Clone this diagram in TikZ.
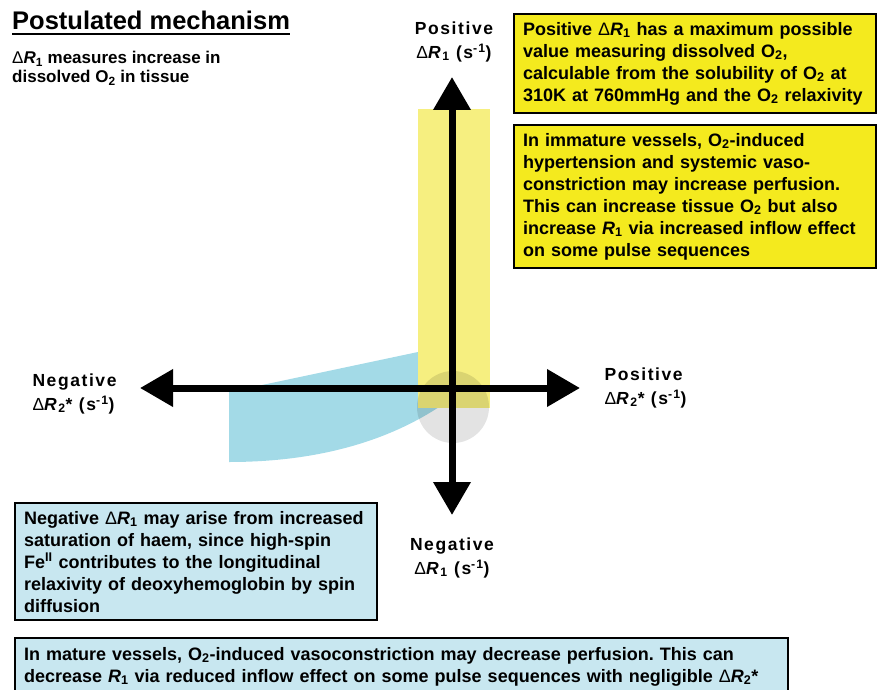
\documentclass[tikz,border=0pt]{standalone}
\usepackage{fontspec}
\setmainfont{Liberation Sans}
\newfontfamily\spacedfont[LetterSpace=9]{Liberation Sans}
\usetikzlibrary{arrows.meta}

\definecolor{boxyellow}{HTML}{F4EA1E}
\definecolor{paleyellow}{HTML}{F6EF80}
\definecolor{boxblue}{HTML}{C8E7F0}
\definecolor{wedgeblue}{HTML}{A3DAE7}
\definecolor{discgray}{HTML}{E3E3E3}

\newcommand{\dRone}{{\mdseries Δ}\textit{R}\textsubscript{1}}
\newcommand{\dRtwo}{{\mdseries Δ}\textit{R}\textsubscript{2}*}
\newcommand{\Otwo}{O\textsubscript{2}}
\newcommand{\perS}{(s\textsuperscript{-1})}
\frenchspacing

\begin{document}
\begin{tikzpicture}[
			x=1pt, y=-1pt,
			every node/.style={font=\bfseries},
			notebox/.style={draw=black, line width=2.2pt, anchor=north west, align=left,
				inner xsep=9pt, inner ysep=8pt, text width=#1,
				font=\fontsize{18}{22}\selectfont\bfseries},
			axislabel/.style={align=left, font=\fontsize{17.5}{23.5}\selectfont\bfseries\spacedfont},
			axisarrow/.style={line width=7pt,
				{Triangle[length=33pt,width=36pt]}-{Triangle[length=33pt,width=36pt]}}
			]
			\useasboundingbox (0,0) rectangle (880,690);
			
			% Shaded regions
			\fill[wedgeblue] (229,392) -- (418,352) -- (452,352) -- (452,398)
				.. controls (395,440) and (320,462) .. (229,462) -- cycle;
			\fill[paleyellow] (418,109) rectangle (490,408);
			\begin{scope}[blend mode=multiply]
				\fill[discgray] (453,407) circle (36);
			\end{scope}
			
			% Axes
			\coordinate (ytop) at (452,77);
			\coordinate (ybot) at (452,515);
			\coordinate (xleft) at (140,388);
			\coordinate (xright) at (580,388);
			\draw[axisarrow] (ybot) -- (ytop);
			\draw[axisarrow] (xleft) -- (xright);
			
			% Title
			\node[anchor=base west, inner sep=0pt, font=\fontsize{25.5}{30}\selectfont\bfseries] (title) at (12,30) {Postulated mechanism};
			\draw[line width=2.5pt] ([yshift=-4pt]title.base west) -- ([yshift=-4pt]title.base east);
			\node[anchor=north west, align=left, inner sep=0pt, font=\fontsize{17}{19}\selectfont\bfseries] (subtitle) at (12,51)
				{\dRone\ measures increase in\\ dissolved \Otwo\ in tissue};
			
			% Axis labels
			\node[axislabel, align=center] (posR1) at (454,42) {Positive\\ \dRone\ \perS};
			\node[axislabel, align=center] (negR1) at (452,558) {Negative\\ \dRone\ \perS};
			\node[axislabel, anchor=west] (negR2) at (29,394) {Negative\\ \dRtwo\ \perS};
			\node[axislabel, anchor=west] (posR2) at (601,388) {Positive\\ \dRtwo\ \perS};
			
			% Yellow boxes
			\node[notebox=344pt, fill=boxyellow] (maxbox) at (513,13)
				{Positive \dRone\ has a maximum possible\\ value measuring dissolved \Otwo,\\
				 calculable from the solubility of \Otwo\ at\\ 310K at 760mmHg and the \Otwo\ relaxivity};
			\node[notebox=344pt, fill=boxyellow] (immbox) at (513,124)
				{In immature vessels, \Otwo-induced\\ hypertension and systemic vaso-\\
				 constriction may increase perfusion.\\ This can increase tissue \Otwo\ but also\\
				 increase \textit{R}\textsubscript{1} via increased inflow effect\\ on some pulse sequences};
			
			% Blue boxes
			\node[notebox=344pt, fill=boxblue] (haembox) at (14,502)
				{Negative \dRone\ may arise from increased\\ saturation of haem, since high-spin\\
				 Fe\textsuperscript{II} contributes to the longitudinal\\ relaxivity of deoxyhemoglobin by spin\\ diffusion};
			\node[notebox=755pt, fill=boxblue, inner ysep=9pt] (maturebox) at (14,637)
				{In mature vessels, \Otwo-induced vasoconstriction may decrease perfusion. This can\\
				 decrease \textit{R}\textsubscript{1} via reduced inflow effect on some pulse sequences with negligible \dRtwo\\[8pt]};
		\end{tikzpicture}
\end{document}
